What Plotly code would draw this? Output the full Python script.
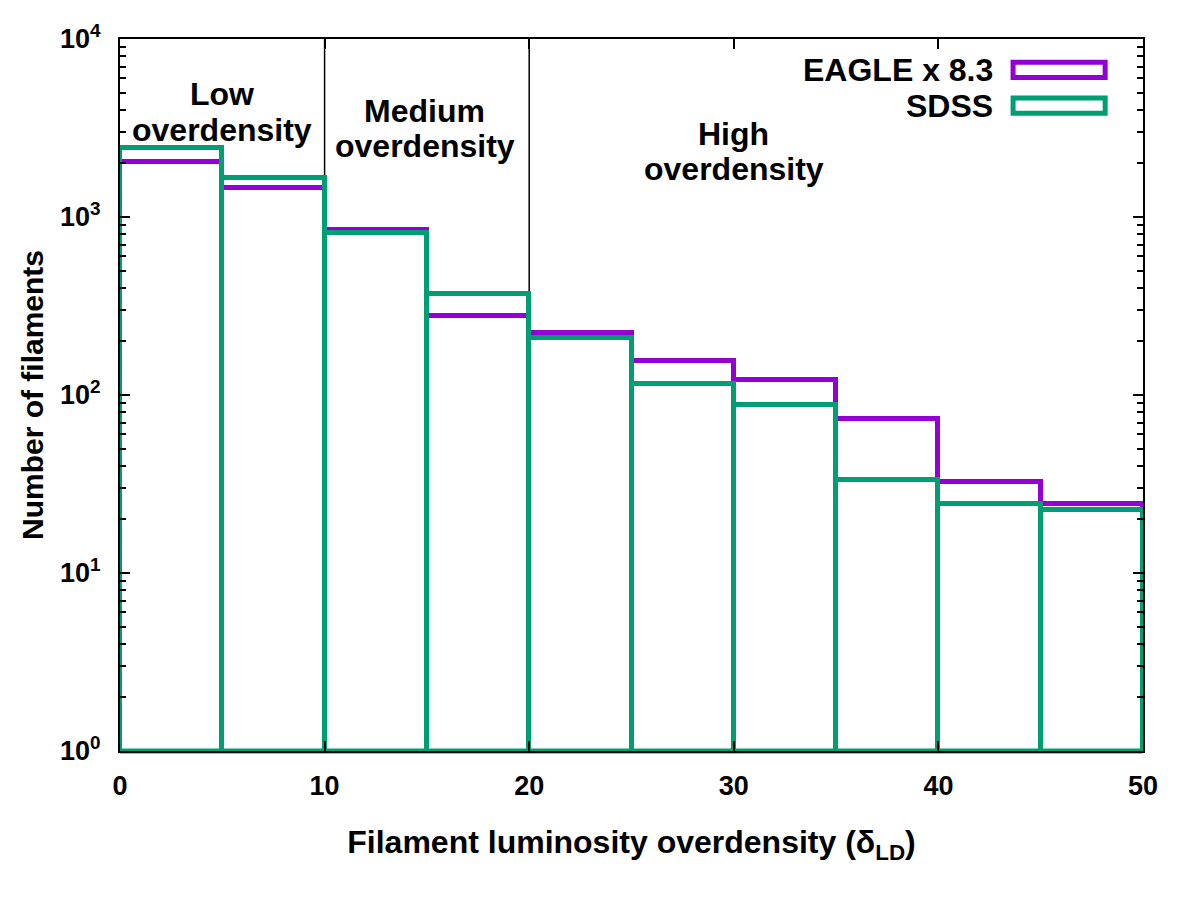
import plotly.graph_objects as go

# Histogram of filaments binned in luminosity overdensity
bin_left = [0, 5, 10, 15, 20, 25, 30, 35, 40, 45]
bin_width = 5
eagle_counts = [2047, 1452, 846, 279, 223, 156, 122, 73, 32.4, 24.5]   # EAGLE x 8.3
sdss_counts = [2430, 1667, 814, 368, 208, 116, 87.6, 33.4, 24.4, 22.7]

y_tickvals = [1, 10, 100, 1000, 10000]
y_ticktext = ['10<sup>0</sup>', '10<sup>1</sup>', '10<sup>2</sup>', '10<sup>3</sup>', '10<sup>4</sup>']

region_x = [10, 20]
# each regime label is two lines: (first line, second line)
region_line1 = ['Low', 'Medium', 'High']
region_line2 = ['overdensity', 'overdensity', 'overdensity']
region_label_x = [5.0, 14.9, 30.0]
region_line1_y = [0.923, 0.8985, 0.866]
region_line2_y = [0.872, 0.8497, 0.817]

FONT = 'Liberation Sans, Arial'
PURPLE = '#9400D3'
GREEN = '#009E73'

centers = [b + bin_width / 2 for b in bin_left]

fig = go.Figure()
fig.add_trace(go.Bar(x=centers, y=eagle_counts, width=bin_width, name='EAGLE x 8.3',
                     marker=dict(color='rgba(0,0,0,0)', line=dict(color=PURPLE, width=5))))
fig.add_trace(go.Bar(x=centers, y=sdss_counts, width=bin_width, name='SDSS',
                     marker=dict(color='rgba(0,0,0,0)', line=dict(color=GREEN, width=5))))

# thin black separators between overdensity regimes
for xv in region_x:
    fig.add_shape(type='line', x0=xv, x1=xv, y0=0, y1=1, xref='x', yref='paper',
                  line=dict(color='black', width=1.5), layer='below')

# box bottoms sit on the lower frame
fig.add_shape(type='line', x0=0, x1=1, y0=0, y1=0, xref='paper', yref='paper',
              line=dict(color=GREEN, width=5), layer='below')

label_font = dict(size=32, color='black', family=FONT, weight='bold')
for l1, l2, xv, y1, y2 in zip(region_line1, region_line2, region_label_x, region_line1_y, region_line2_y):
    fig.add_annotation(text=l1, x=xv, y=y1, xref='x', yref='paper', yanchor='middle',
                       showarrow=False, font=label_font)
    fig.add_annotation(text=l2, x=xv, y=y2, xref='x', yref='paper', yanchor='middle',
                       showarrow=False, font=label_font)

# hand-made legend (text left of an outlined box, like gnuplot)
legend_items = [('EAGLE x 8.3', PURPLE, 0.9567), ('SDSS', GREEN, 0.9064)]
for name, col, yc in legend_items:
    fig.add_annotation(text=name, x=0.855, y=yc, xref='paper', yref='paper',
                       xanchor='right', yanchor='middle', showarrow=False, font=label_font)
    fig.add_shape(type='rect', x0=0.873, x1=0.963, y0=yc - 0.0106, y1=yc + 0.0106,
                  xref='paper', yref='paper', line=dict(color=col, width=5))

# y title placed by hand so it sits as far left as in the original
fig.add_annotation(text='Number of filaments', x=-0.086, y=0.5, xref='paper', yref='paper',
                   textangle=-90, showarrow=False, xanchor='center', yanchor='middle',
                   font=dict(size=30, color='black', family=FONT, weight='bold'))

fig.update_layout(
    width=1200, height=900,
    barmode='overlay', bargap=0,
    showlegend=False,
    plot_bgcolor='white', paper_bgcolor='white',
    margin=dict(l=112, r=65, t=27, b=157),
    font=dict(family=FONT, size=28, color='black', weight='bold'),
)
tick_font = dict(size=27, family=FONT, color='black', weight='bold')
fig.update_xaxes(range=[0, 50], dtick=10, showline=True, linecolor='black', linewidth=2,
                 mirror='allticks', ticks='inside', ticklen=10, tickwidth=1.5, tickcolor='black',
                 showgrid=False, zeroline=False, tickfont=tick_font, ticklabelstandoff=10,
                 title=dict(text='Filament luminosity overdensity (δ<sub>LD</sub>)',
                            font=dict(size=32, family=FONT, weight='bold'), standoff=30))
fig.update_yaxes(type='log', range=[0, 4], tickmode='array', tickvals=y_tickvals, ticktext=y_ticktext,
                 showline=True, linecolor='black', linewidth=2, mirror='allticks',
                 ticks='inside', ticklen=10, tickwidth=1.5, tickcolor='black',
                 minor=dict(ticks='inside', ticklen=6, tickwidth=1.5, tickcolor='black', dtick='D1'),
                 showgrid=False, zeroline=False, tickfont=tick_font, ticklabelstandoff=12)

fig.write_html("out.html")
